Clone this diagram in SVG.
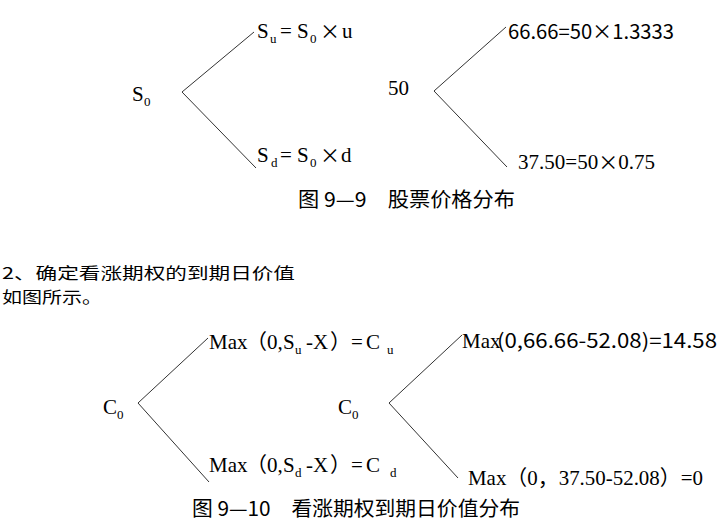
<svg xmlns="http://www.w3.org/2000/svg" width="719" height="530" viewBox="0 0 719 530">
<style>
.t{font-family:"Liberation Serif","Noto Sans CJK SC",serif;font-size:21px;fill:#000}
.c{font-family:"Noto Sans CJK SC","Liberation Sans",sans-serif;font-size:20px;fill:#000}
.x{font-family:"Noto Sans CJK SC","Liberation Sans",sans-serif;font-size:20px}
.b{font-family:"Noto Sans CJK SC","Liberation Sans",sans-serif;font-size:16px;fill:#000}
.s{font-size:13px}
.ln{stroke:#333;stroke-width:1;fill:none}
</style>
<rect width="719" height="530" fill="#fff"/>
<g id="connectors">
<path class="ln" d="M182,92 L254,32 M182,92 L256,168"/>
<path class="ln" d="M434,91 L506,27 M434,91 L507,167"/>
<path class="ln" d="M138,403 L208,338 M138,403 L209,482"/>
<path class="ln" d="M389,403 L462,335 M389,403 L458,478"/>
</g>
<g id="s0">
<text class="t" x="132" y="101">S<tspan class="s" x="144" y="106">0</tspan></text>
</g>
<g id="su">
<text class="t" y="38"><tspan x="257">S</tspan><tspan class="s" x="270" y="43">u</tspan><tspan x="280" y="38">=</tspan><tspan x="297">S</tspan><tspan class="s" x="310" y="43">0</tspan><tspan class="x" x="320" y="39">×</tspan><tspan x="342" y="38">u</tspan></text>
</g>
<g id="sd">
<text class="t" y="162"><tspan x="257">S</tspan><tspan class="s" x="271" y="167">d</tspan><tspan x="280" y="162">=</tspan><tspan x="297">S</tspan><tspan class="s" x="310" y="167">0</tspan><tspan class="x" x="320" y="163">×</tspan><tspan x="341" y="162">d</tspan></text>
</g>
<g id="n50">
<text class="t" x="388" y="95">50</text>
</g>
<g id="up50">
<text class="c" x="508" y="39" textLength="166" lengthAdjust="spacingAndGlyphs">66.66=50×1.3333</text>
</g>
<g id="down50">
<text class="t" x="518" y="169" textLength="137" lengthAdjust="spacingAndGlyphs">37.50=50<tspan class="x" y="170">×</tspan><tspan y="169">0.75</tspan></text>
</g>
<g id="caption1">
<text class="c" x="298" y="207" textLength="217" lengthAdjust="spacingAndGlyphs">图 9—9　股票价格分布</text>
</g>
<g id="body">
<text class="b" x="2" y="279" textLength="293" lengthAdjust="spacingAndGlyphs">2、确定看涨期权的到期日价值</text>
<text class="b" x="2" y="303" textLength="100" lengthAdjust="spacingAndGlyphs">如图所示。</text>
</g>
<g id="c0a">
<text class="t" x="103" y="414">C<tspan class="s" x="117" y="419">0</tspan></text>
</g>
<g id="cu">
<text class="t" y="349"><tspan x="209">Max</tspan><tspan x="246">（</tspan><tspan x="267">0,</tspan><tspan x="283">S</tspan><tspan class="s" x="295" y="354">u</tspan><tspan x="306" y="349">-X</tspan><tspan x="330">）</tspan><tspan x="351">=</tspan><tspan x="366">C</tspan><tspan class="s" x="387" y="354">u</tspan></text>
</g>
<g id="cd">
<text class="t" y="472"><tspan x="209">Max</tspan><tspan x="246">（</tspan><tspan x="267">0,</tspan><tspan x="283">S</tspan><tspan class="s" x="295" y="477">d</tspan><tspan x="306" y="472">-X</tspan><tspan x="330">）</tspan><tspan x="351">=</tspan><tspan x="366">C</tspan><tspan class="s" x="390" y="477">d</tspan></text>
</g>
<g id="c0b">
<text class="t" x="338" y="414">C<tspan class="s" x="352" y="419">0</tspan></text>
</g>
<g id="cuv">
<text class="t" x="462" y="348">Max</text>
<text class="c" x="497" y="348" textLength="220" lengthAdjust="spacingAndGlyphs">(0,66.66-52.08)=14.58</text>
</g>
<g id="cdv">
<text class="t" x="468" y="485" textLength="235" lengthAdjust="spacingAndGlyphs">Max（0，37.50-52.08）=0</text>
</g>
<g id="caption2">
<text class="c" x="192" y="516" textLength="328" lengthAdjust="spacingAndGlyphs">图 9—10　看涨期权到期日价值分布</text>
</g>
</svg>
